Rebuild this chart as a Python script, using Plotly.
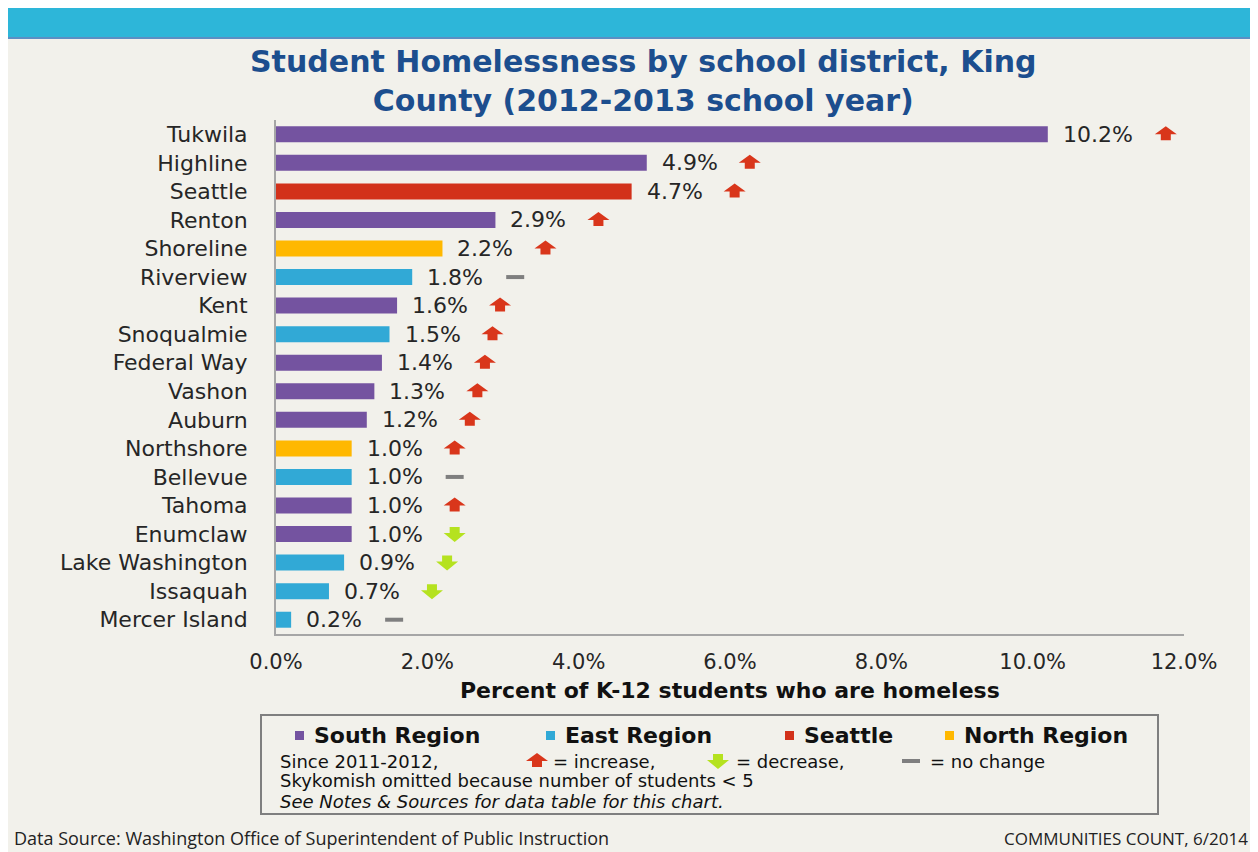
import plotly.graph_objects as go

# data, top to bottom as in the chart
districts = ['Tukwila', 'Highline', 'Seattle', 'Renton', 'Shoreline', 'Riverview', 'Kent',
             'Snoqualmie', 'Federal Way', 'Vashon', 'Auburn', 'Northshore', 'Bellevue',
             'Tahoma', 'Enumclaw', 'Lake Washington', 'Issaquah', 'Mercer Island']
pct = [10.2, 4.9, 4.7, 2.9, 2.2, 1.8, 1.6, 1.5, 1.4, 1.3, 1.2, 1.0, 1.0, 1.0, 1.0, 0.9, 0.7, 0.2]
region = ['South', 'South', 'Seattle', 'South', 'North', 'East', 'South', 'East', 'South',
          'South', 'South', 'North', 'East', 'South', 'South', 'East', 'East', 'East']
change = ['up', 'up', 'up', 'up', 'up', 'same', 'up', 'up', 'up', 'up', 'up', 'up', 'same',
          'up', 'down', 'down', 'down', 'same']
x_ticks = [0, 2, 4, 6, 8, 10, 12]
x_tick_labels = ['0.0%', '2.0%', '4.0%', '6.0%', '8.0%', '10.0%', '12.0%']

region_colors = {'South': '#7453A0', 'East': '#31A9D6', 'Seattle': '#D2311A', 'North': '#FFB800'}
legend_items = [('South Region', 'South'), ('East Region', 'East'),
                ('Seattle', 'Seattle'), ('North Region', 'North')]

BG = '#F2F1EB'
FONT = 'DejaVu Sans'
TXT = '#262626'
UP_COL, DOWN_COL, SAME_COL = '#D9361B', '#B5E21F', '#7F7F7F'

# page has an 8px body margin; coordinates below are window pixels
OFF = 8
W_FIG, H_FIG = 1253 - OFF, 852 - OFF
L, R, T, B = 276, 1184, 120, 634


def px(X):
    return (X - L) / (R - L)


def py(Y):
    return (B - Y) / (B - T)


def marker_path(kind, dx=0):
    # pixel paths around the anchor (y up)
    if kind == 'up':
        pts = [(-5, -6), (5, -6), (5, 0), (11, 0), (0, 8), (-11, 0), (-5, 0)]
    elif kind == 'down':
        pts = [(-5, 7), (5, 7), (5, 1), (11, 1), (0, -8), (-11, 1), (-5, 1)]
    else:
        pts = [(-9, -2), (9, -2), (9, 2), (-9, 2)]
    return 'M' + ' L'.join(f'{x + dx},{y}' for x, y in pts) + ' Z'


kind_color = {'up': UP_COL, 'down': DOWN_COL, 'same': SAME_COL}

ypos = list(range(len(districts)))

fig = go.Figure()
fig.add_trace(go.Bar(
    x=pct, y=ypos, orientation='h', width=0.56,
    marker=dict(color=[region_colors[r] for r in region], line=dict(width=0)),
    hoverinfo='skip', showlegend=False,
))

annotations = []
shapes = []

for i, (v, c) in enumerate(zip(pct, change)):
    lab = f'{v:.1f}%'
    annotations.append(dict(x=v, y=i, xref='x', yref='y', text=lab, showarrow=False,
                            xanchor='left', yanchor='middle', xshift=13,
                            font=dict(family=FONT, size=22, color=TXT)))
    shift = 118 if len(lab) > 4 else 103
    shapes.append(dict(type='path', xref='x', yref='y', xsizemode='pixel', ysizemode='pixel',
                       xanchor=v, yanchor=i, path=marker_path(c, shift),
                       fillcolor=kind_color[c], line=dict(width=0)))

# decoration: cyan band at the top, legend box
shapes += [
    dict(type='rect', xref='paper', yref='paper', x0=px(OFF), x1=px(1253), y0=py(OFF), y1=py(37),
         fillcolor='#2DB6D9', line=dict(width=0), layer='below'),
    dict(type='rect', xref='paper', yref='paper', x0=px(OFF), x1=px(1253), y0=py(37), y1=py(39),
         fillcolor='#5B8FC4', line=dict(width=0), layer='below'),
    dict(type='rect', xref='paper', yref='paper', x0=px(261), x1=px(1158), y0=py(715), y1=py(814),
         fillcolor='rgba(0,0,0,0)', line=dict(color='#7F7F7F', width=2)),
]

# legend row 1: region squares
sq_x = [299, 550, 789, 949]
txt_x = [312, 563, 802, 962]
for (name, key), sx, tx in zip(legend_items, sq_x, txt_x):
    shapes.append(dict(type='rect', xref='paper', yref='paper', x0=px(sx - 4), x1=px(sx + 5),
                       y0=py(740), y1=py(731), fillcolor=region_colors[key], line=dict(width=0)))
    annotations.append(dict(x=px(tx), y=py(735), xref='paper', yref='paper', text=f'<b>{name}</b>',
                            showarrow=False, xanchor='left', yanchor='middle',
                            font=dict(family=FONT, size=22, color='#111111')))

# legend row 2: change markers
row2 = [(278, 'Since 2011-2012,'), (551, '= increase,'), (734, '= decrease,'), (928, '= no change')]
for tx, t in row2:
    annotations.append(dict(x=px(tx), y=py(761), xref='paper', yref='paper', text=t,
                            showarrow=False, xanchor='left', yanchor='middle',
                            font=dict(family=FONT, size=18, color='#111111')))
for mx, k in [(537, 'up'), (718, 'down'), (911, 'same')]:
    shapes.append(dict(type='path', xref='paper', yref='paper', xsizemode='pixel', ysizemode='pixel',
                       xanchor=px(mx), yanchor=py(761), path=marker_path(k),
                       fillcolor=kind_color[k], line=dict(width=0)))

annotations += [
    dict(x=px(278), y=py(781), xref='paper', yref='paper',
         text='Skykomish omitted because number of students &lt; 5',
         showarrow=False, xanchor='left', yanchor='middle',
         font=dict(family=FONT, size=18, color='#111111')),
    dict(x=px(278), y=py(801), xref='paper', yref='paper',
         text='<i>See Notes &amp; Sources for data table for this chart.</i>',
         showarrow=False, xanchor='left', yanchor='middle',
         font=dict(family=FONT, size=18, color='#111111')),
    # axis title
    dict(x=0.5, y=py(690), xref='paper', yref='paper',
         text='<b>Percent of K-12 students who are homeless</b>',
         showarrow=False, xanchor='center', yanchor='middle',
         font=dict(family=FONT, size=22, color='#111111')),
    # title
    dict(x=px(643), y=py(81), xref='paper', yref='paper',
         text='<b>Student Homelessness by school district, King<br>County (2012-2013 school year)</b>',
         showarrow=False, xanchor='center', yanchor='middle',
         font=dict(family=FONT, size=30, color='#1C4E8E')),
    # footer
    dict(x=px(12), y=py(838), xref='paper', yref='paper',
         text='Data Source: Washington Office of Superintendent of Public Instruction',
         showarrow=False, xanchor='left', yanchor='middle',
         font=dict(family='Open Sans', size=18, color='#222222')),
    dict(x=px(1250), y=py(838), xref='paper', yref='paper',
         text='COMMUNITIES COUNT, 6/2014',
         showarrow=False, xanchor='right', yanchor='middle',
         font=dict(family='Open Sans', size=17, color='#222222')),
]

fig.update_layout(
    width=W_FIG, height=H_FIG,
    margin=dict(l=L - OFF, r=1253 - R, t=T - OFF, b=852 - B, pad=0),
    paper_bgcolor=BG, plot_bgcolor='rgba(0,0,0,0)',
    font=dict(family=FONT, color=TXT),
    showlegend=False,
    shapes=shapes,
    annotations=annotations,
    xaxis=dict(range=[0, 12], tickvals=x_ticks, ticktext=x_tick_labels, showgrid=False,
               zeroline=False, showline=True, linecolor='#A6A6A6', linewidth=2,
               ticks='outside', ticklen=8, tickcolor=BG,
               tickfont=dict(family=FONT, size=21, color=TXT)),
    yaxis=dict(range=[len(districts) - 0.5, -0.5], tickvals=ypos, ticktext=districts,
               showgrid=False, zeroline=False, showline=True, linecolor='#A6A6A6', linewidth=2,
               ticks='outside', ticklen=22, tickcolor=BG,
               tickfont=dict(family=FONT, size=22, color=TXT)),
)

fig.write_html('out.html')
